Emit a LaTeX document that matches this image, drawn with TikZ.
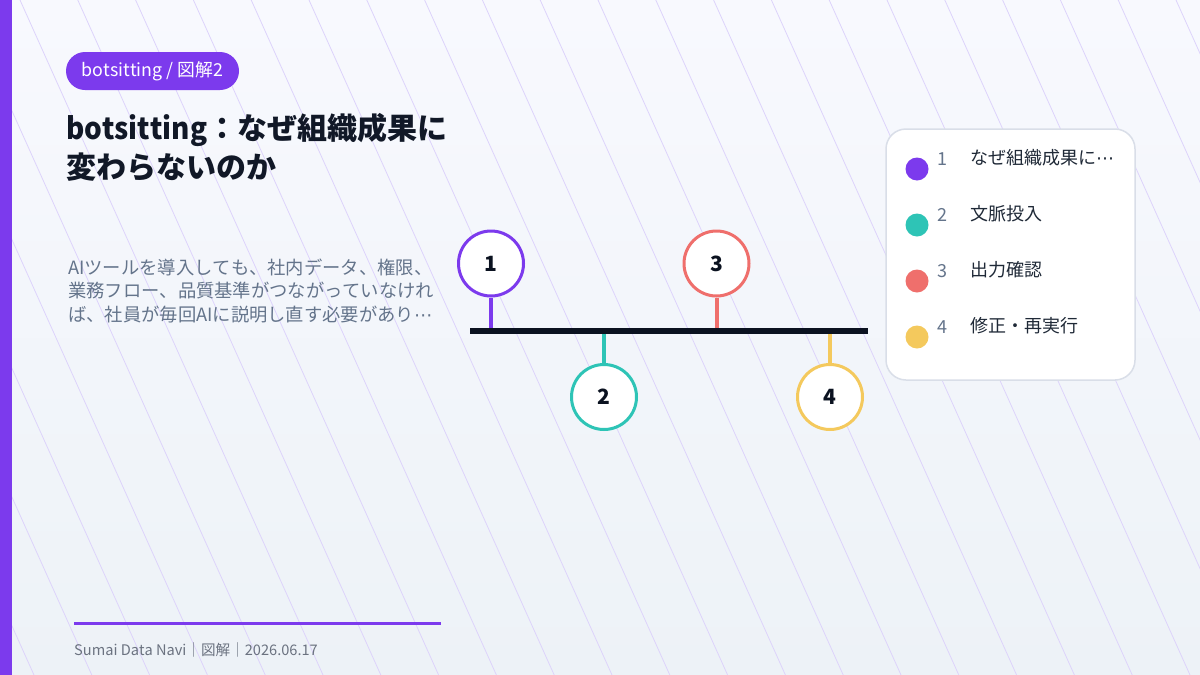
\documentclass[tikz,border=0pt]{standalone}
\usepackage{fontspec}
\setmainfont{Noto Sans CJK JP}[Kerning=Off]
\newfontfamily\dejavu{DejaVu Sans}
\newcommand{\midell}{{\dejavu ⋯}}
\definecolor{purp}{HTML}{7C3AED}
\definecolor{cteal}{HTML}{2EC4B6}
\definecolor{ccoral}{HTML}{EF6F6C}
\definecolor{cyel}{HTML}{F4C95D}
\definecolor{ink}{HTML}{0B1220}
\definecolor{titlec}{HTML}{111827}
\definecolor{bodyc}{HTML}{64748B}
\definecolor{legtext}{HTML}{1F2937}
\definecolor{footc}{HTML}{6B7280}
\definecolor{hatch}{HTML}{DDD3FB}
\definecolor{bgtop}{HTML}{F8F9FE}
\definecolor{bgbot}{HTML}{EDF2F7}
\definecolor{legborder}{HTML}{D9DEE8}
\tikzset{
  badge/.style={fill=purp, rounded corners=19pt, minimum height=38pt, minimum width=173pt, inner sep=0pt, text=white, font=\fontsize{17.8}{17.8}\selectfont},
  titleline/.style={anchor=base west, inner sep=0pt, text=titlec, font=\fontsize{30}{30}\selectfont\bfseries},
  bodyline/.style={anchor=base west, inner sep=0pt, text=bodyc, font=\fontsize{18.3}{18.3}\selectfont},
  pin/.style={circle, draw=#1, line width=3pt, fill=white, minimum size=65pt, inner sep=0pt, text=ink, font=\fontsize{21}{21}\selectfont\bfseries},
  stem/.style={draw=#1, line width=4pt},
  legdot/.style={circle, fill=#1, minimum size=23pt, inner sep=0pt},
  legnum/.style={anchor=base west, inner sep=0pt, text=bodyc, font=\fontsize{18}{18}\selectfont},
  legtxt/.style={anchor=base west, inner sep=0pt, text=legtext, font=\fontsize{18}{18}\selectfont},
  foot/.style={anchor=base west, inner sep=0pt, text=footc, font=\fontsize{14.6}{14.6}\selectfont},
}
\begin{document}
\begin{tikzpicture}[x=1pt,y=-1pt]
\useasboundingbox (0,0) rectangle (1200,675);
\shade[top color=bgtop, bottom color=bgbot] (0,0) rectangle (1200,675);
\begin{scope}
  \clip (0,0) rectangle (1200,675);
  \foreach \k in {-6,...,20}
    \draw[hatch, line width=0.8pt] ({20+57.8*\k},0) -- ({20+57.8*\k+303},675);
\end{scope}
\fill[purp] (0,0) rectangle (12,675);

% badge and title
\node[badge] (badge) at (152.5,71) {botsitting / 図解2};
\node[titleline] (title1) at (66,139) {\scalebox{0.93}[1]{botsitting}：なぜ組織成果に};
\node[titleline] (title2) at (66,178.5) {変わらないのか};

% body
\node[bodyline] (body1) at (68,274) {AIツールを導入しても、社内データ、権限、};
\node[bodyline] (body2) at (68,297.7) {業務フロー、品質基準がつながっていなけれ};
\node[bodyline] (body3) at (68,321.4) {ば、社員が毎回AIに説明し直す必要があり\midell};

% timeline
\coordinate (tl) at (470,331);
\coordinate (tr) at (868,331);
\coordinate (t1) at (491,331);
\coordinate (t2) at (604,331);
\coordinate (t3) at (716.5,331);
\coordinate (t4) at (830,331);
\node[pin=purp] (c1) at (491,263.5) {1};
\node[pin=cteal] (c2) at (604,397) {2};
\node[pin=ccoral] (c3) at (716.5,263.5) {3};
\node[pin=cyel] (c4) at (830,397) {4};
\draw[stem=purp] (c1.south) -- (t1);
\draw[stem=cteal] (c2.north) -- (t2);
\draw[stem=ccoral] (c3.south) -- (t3);
\draw[stem=cyel] (c4.north) -- (t4);
\draw[ink, line width=6.5pt] (tl) -- (tr);

% legend
\draw[fill=white, draw=legborder, line width=1.5pt, rounded corners=20pt] (886,129) rectangle (1135,380);
\node[legdot=purp] (d1) at (917,169) {};
\node[legdot=cteal] (d2) at (917,225) {};
\node[legdot=ccoral] (d3) at (917,281) {};
\node[legdot=cyel] (d4) at (917,337) {};
\node[legnum] (n1) at (937,165) {1};
\node[legnum] (n2) at (937,221) {2};
\node[legnum] (n3) at (937,277) {3};
\node[legnum] (n4) at (937,333) {4};
\node[legtxt] (l1) at (970,164.5) {なぜ組織成果に\midell};
\node[legtxt] (l2) at (970,220.5) {文脈投入};
\node[legtxt] (l3) at (970,276.5) {出力確認};
\node[legtxt] (l4) at (970,332.5) {修正・再実行};

% footer
\coordinate (fl) at (74,623.3);
\coordinate (fr) at (441,623.3);
\draw[purp, line width=3pt] (fl) -- (fr);
\node[foot] (footer) at (74,655) {Sumai Data Navi｜図解｜2026.06.17};
\end{tikzpicture}
\end{document}
